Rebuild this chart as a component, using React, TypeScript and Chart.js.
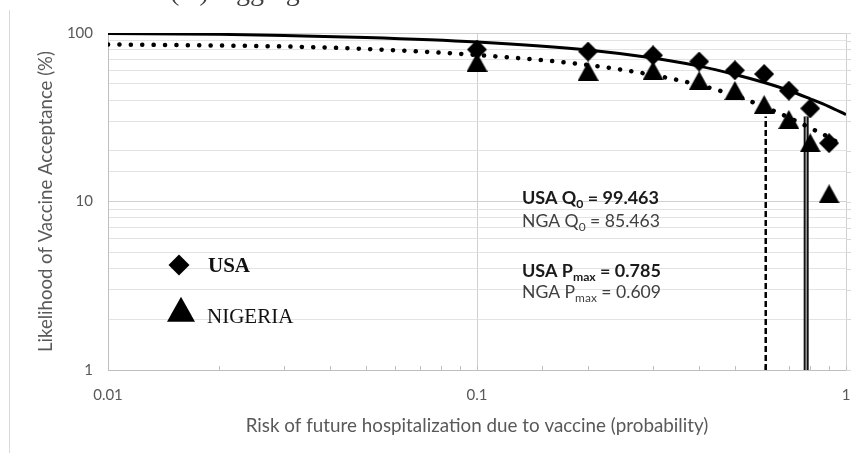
import React, { useEffect, useRef } from 'react';
import { Chart, registerables } from 'chart.js';

Chart.register(...registerables);

// ---- data ----
const riskLevels = [0.1, 0.2, 0.3, 0.4, 0.5, 0.6, 0.7, 0.8, 0.9];
const usaObserved = [79.8, 77.6, 73.7, 67.7, 60.1, 57.1, 45.5, 35.7, 22.2];
const ngaObserved = [67.1, 59.3, 59.9, 52.2, 45.6, 37.6, 30.7, 22.3, 11.1];

const usaCurveRisk = [0.01, 0.02, 0.03, 0.05, 0.1, 0.2, 0.3, 0.4, 0.5, 0.6, 0.7, 0.8, 0.9, 1.0];
const usaCurveValues = [99.3, 98.2, 96.5, 94.0, 88.4, 79.3, 71.0, 63.6, 56.7, 50.8, 45.6, 40.7, 36.6, 32.8];
const ngaCurveRisk = [0.01, 0.02, 0.03, 0.05, 0.1, 0.2, 0.3, 0.4, 0.5, 0.6, 0.7, 0.8, 0.9, 0.95];
const ngaCurveValues = [85.5, 84.3, 83.2, 80.4, 74.0, 64.6, 56.3, 49.1, 42.6, 36.4, 31.5, 27.3, 24.0, 22.4];

const usaPmaxLineX = [0.78, 0.78];
const usaPmaxLineY = [1, 32];
const ngaPmaxLineX = [0.606, 0.606];
const ngaPmaxLineY = [1, 32];

const xTickValues = [0.01, 0.1, 1];
const xTickLabels = ['0.01', '0.1', '1'];
const yTickValues = [1, 10, 100];
const yTickLabels = ['1', '10', '100'];

const legendLabels = ['USA', 'NIGERIA'];
const xTitle = 'Risk of future hospitalization due to vaccine (probability)';
const yTitle = 'Likelihood of Vaccine Acceptance (%)';
const panelTitle = '(A) Aggregate';

// each annotation line: [text, isSubscript] runs
const annotationRuns: [string, boolean][][] = [
  [['USA Q', false], ['0', true], [' = 99.463', false]],
  [['NGA Q', false], ['0', true], [' = 85.463', false]],
  [['USA P', false], ['max', true], [' = 0.785', false]],
  [['NGA P', false], ['max', true], [' = 0.609', false]],
];
const annotationBold = [true, false, true, false];

// ---- styling ----
const FONT = 'Lato';
const SERIF = '"Liberation Serif", "DejaVu Serif", serif';
const GRAY_TEXT = '#595959';

const mctx = document.createElement('canvas').getContext('2d') as CanvasRenderingContext2D;
function measure(font: string, text: string) {
  mctx.font = font;
  return mctx.measureText(text).width;
}
function fitSize(text: string, target: number, weight = 'normal', family = FONT) {
  return (100 * target) / measure(`${weight} 100px ${family}`, text);
}
const SUB_RATIO = 0.68;
function runsWidth(runs: [string, boolean][], size: number, weight: string) {
  return runs.reduce((w, [t, sub]) => w + measure(`${weight} ${sub ? size * SUB_RATIO : size}px ${FONT}`, t), 0);
}

const isPow10 = (v: number) => v > 0 && Math.abs(Math.log10(v) - Math.round(Math.log10(v))) < 1e-6;
const labelFor = (vals: number[], labels: string[]) => (value: any) => {
  const v = Number(value);
  const i = vals.findIndex((t) => Math.abs(Math.log10(t) - Math.log10(v)) < 1e-6);
  return i >= 0 ? labels[i] : '';
};

function makeTriangle(w: number, h: number) {
  const c = document.createElement('canvas');
  c.width = w;
  c.height = h;
  const g = c.getContext('2d') as CanvasRenderingContext2D;
  g.fillStyle = '#000';
  g.beginPath();
  g.moveTo(w / 2, 0);
  g.lineTo(w, h);
  g.lineTo(0, h);
  g.closePath();
  g.fill();
  return c;
}
function makeDiamond(w: number, h: number) {
  const c = document.createElement('canvas');
  c.width = w;
  c.height = h;
  const g = c.getContext('2d') as CanvasRenderingContext2D;
  g.fillStyle = '#000';
  g.beginPath();
  g.moveTo(w / 2, 0);
  g.lineTo(w, h / 2);
  g.lineTo(w / 2, h);
  g.lineTo(0, h / 2);
  g.closePath();
  g.fill();
  return c;
}

export default function App() {
  const ref = useRef<HTMLCanvasElement | null>(null);

  useEffect(() => {
    if (!ref.current) return;
    const xTitleSize = fitSize(xTitle, 463);
    const yTitleSize = fitSize(yTitle, 301);
    const boldSize = (137 * 100) / runsWidth(annotationRuns[0], 100, 'bold');
    const normSize = (138 * 100) / runsWidth(annotationRuns[1], 100, 'normal');

    const diamond = makeDiamond(20, 20);
    const triangle = makeTriangle(21, 19);

    const decor = {
      id: 'decor',
      beforeDatasetsDraw(chart: any) {
        const { ctx, chartArea, scales } = chart;
        ctx.save();
        ctx.lineWidth = 1;
        ctx.strokeStyle = '#bfbfbf';
        ctx.beginPath();
        scales.x.ticks.forEach((t: any) => {
          const px = Math.round(scales.x.getPixelForValue(t.value)) + 0.5;
          ctx.moveTo(px, chartArea.bottom);
          ctx.lineTo(px, chartArea.bottom - 4);
        });
        ctx.stroke();
        ctx.strokeStyle = '#d9d9d9';
        ctx.beginPath();
        scales.y.ticks.forEach((t: any) => {
          const py = Math.round(scales.y.getPixelForValue(t.value)) + 0.5;
          ctx.moveTo(chartArea.right, py);
          ctx.lineTo(chartArea.right + 5, py);
        });
        ctx.stroke();
        ctx.restore();
      },
      afterDraw(chart: any) {
        const { ctx } = chart;
        ctx.save();
        // clipped panel title at the very top
        ctx.fillStyle = '#404040';
        ctx.textBaseline = 'alphabetic';
        ctx.textAlign = 'left';
        ctx.font = `28px ${SERIF}`;
        ctx.fillText(panelTitle, 170, 0);

        // legend
        ctx.fillStyle = '#000';
        ctx.beginPath();
        ctx.moveTo(179, 254.5);
        ctx.lineTo(189.5, 265);
        ctx.lineTo(179, 275.5);
        ctx.lineTo(168.5, 265);
        ctx.closePath();
        ctx.fill();
        ctx.beginPath();
        ctx.moveTo(181, 296.7);
        ctx.lineTo(195, 321.7);
        ctx.lineTo(167, 321.7);
        ctx.closePath();
        ctx.fill();
        ctx.fillStyle = '#111';
        ctx.font = `bold 21px ${SERIF}`;
        ctx.fillText(legendLabels[0], 208, 272);
        ctx.font = `21px ${SERIF}`;
        ctx.fillText(legendLabels[1], 207, 323);

        // annotations
        const baselines = [204, 227, 277, 297.5];
        annotationRuns.forEach((runs, i) => {
          const bold = annotationBold[i];
          const size = bold ? boldSize : normSize;
          const weight = bold ? 'bold' : 'normal';
          ctx.fillStyle = bold ? '#1a1a1a' : '#404040';
          let x = 522;
          runs.forEach(([t, sub]) => {
            const s = sub ? size * SUB_RATIO : size;
            ctx.font = `${weight} ${s}px ${FONT}`;
            ctx.fillText(t, x, baselines[i] + (sub ? size * 0.25 : 0));
            x += ctx.measureText(t).width;
          });
        });
        ctx.restore();
      },
    };

    const pts = (xs: number[], ys: number[]) => xs.map((x, i) => ({ x, y: ys[i] }));

    const chart = new Chart(ref.current, {
      type: 'line',
      data: {
        datasets: [
          {
            label: 'USA',
            data: pts(riskLevels, usaObserved),
            showLine: false,
            pointStyle: diamond as any,
            pointRadius: 10,
            order: 0,
          },
          {
            label: 'NIGERIA',
            data: pts(riskLevels, ngaObserved),
            showLine: false,
            pointStyle: triangle as any,
            pointRadius: 10,
            order: 1,
          },
          {
            label: 'USA fit',
            data: pts(usaCurveRisk, usaCurveValues),
            borderColor: '#000',
            borderWidth: 3,
            pointRadius: 0,
            cubicInterpolationMode: 'monotone',
            order: 3,
          },
          {
            label: 'NGA fit',
            data: pts(ngaCurveRisk, ngaCurveValues),
            borderColor: '#000',
            borderWidth: 4.5,
            borderDash: [0.1, 11.3],
            borderCapStyle: 'round',
            pointRadius: 0,
            cubicInterpolationMode: 'monotone',
            order: 4,
          },
          {
            label: 'NGA Pmax',
            data: pts(ngaPmaxLineX, ngaPmaxLineY),
            borderColor: '#000',
            borderWidth: 2.5,
            borderDash: [6, 3],
            pointRadius: 0,
            order: 5,
          },
          {
            label: 'USA Pmax inner',
            data: pts(usaPmaxLineX, usaPmaxLineY),
            borderColor: '#9a9a9a',
            borderWidth: 1.5,
            pointRadius: 0,
            order: 6,
          },
          {
            label: 'USA Pmax',
            data: pts(usaPmaxLineX, usaPmaxLineY),
            borderColor: '#111',
            borderWidth: 5,
            pointRadius: 0,
            order: 7,
          },
        ],
      },
      options: {
        responsive: true,
        maintainAspectRatio: false,
        animation: false,
        events: [],
        layout: { padding: { top: 33, right: 9, left: 0, bottom: 0 } },
        plugins: {
          legend: { display: false },
          tooltip: { enabled: false },
          title: { display: false },
        },
        scales: {
          x: {
            type: 'logarithmic',
            min: 0.01,
            max: 1,
            position: 'bottom',
            afterFit: (s: any) => {
              s.height = 83;
              s.paddingLeft = 0;
              s.paddingRight = 0;
            },
            grid: {
              drawTicks: false,
              lineWidth: 1,
              color: (c: any) => (c.tick && isPow10(c.tick.value) ? '#d0d0d0' : 'rgba(0,0,0,0)'),
            },
            border: { color: '#bfbfbf', width: 1 },
            ticks: {
              autoSkip: false,
              maxRotation: 0,
              padding: 16.5,
              color: GRAY_TEXT,
              font: { family: FONT, size: 15 },
              callback: labelFor(xTickValues, xTickLabels),
            },
            title: {
              display: true,
              text: xTitle,
              color: GRAY_TEXT,
              font: { family: FONT, size: xTitleSize, lineHeight: 1.2 },
              padding: { top: 0, bottom: 27 - 0.6 * xTitleSize },
            },
          },
          y: {
            type: 'logarithmic',
            min: 1,
            max: 100,
            position: 'left',
            afterFit: (s: any) => {
              s.width = 108;
              s.paddingTop = 0;
              s.paddingBottom = 0;
            },
            grid: {
              drawTicks: false,
              lineWidth: 1,
              color: (c: any) => (c.tick && isPow10(c.tick.value) ? '#d0d0d0' : '#e3e3e3'),
            },
            border: { color: '#bfbfbf', width: 1 },
            ticks: {
              autoSkip: false,
              padding: 15,
              color: GRAY_TEXT,
              font: { family: FONT, size: 15 },
              callback: labelFor(yTickValues, yTickLabels),
            },
            title: {
              display: true,
              text: yTitle,
              color: GRAY_TEXT,
              font: { family: FONT, size: yTitleSize, lineHeight: 1.2 },
              padding: { top: 46.5 - 0.6 * yTitleSize, bottom: 0 },
            },
          },
        },
      },
      plugins: [decor],
    } as any);

    return () => chart.destroy();
  }, []);

  return (
    <div style={{ position: 'fixed', left: 0, top: 0, width: 857, height: 453, background: '#fff' }}>
      <div
        style={{
          position: 'absolute',
          left: 9,
          top: 10,
          width: 0,
          height: 443,
          borderLeft: '1px solid #d9d9d9',
        }}
      />
      <canvas ref={ref} style={{ position: 'absolute', left: 0, top: 0 }} />
    </div>
  );
}
